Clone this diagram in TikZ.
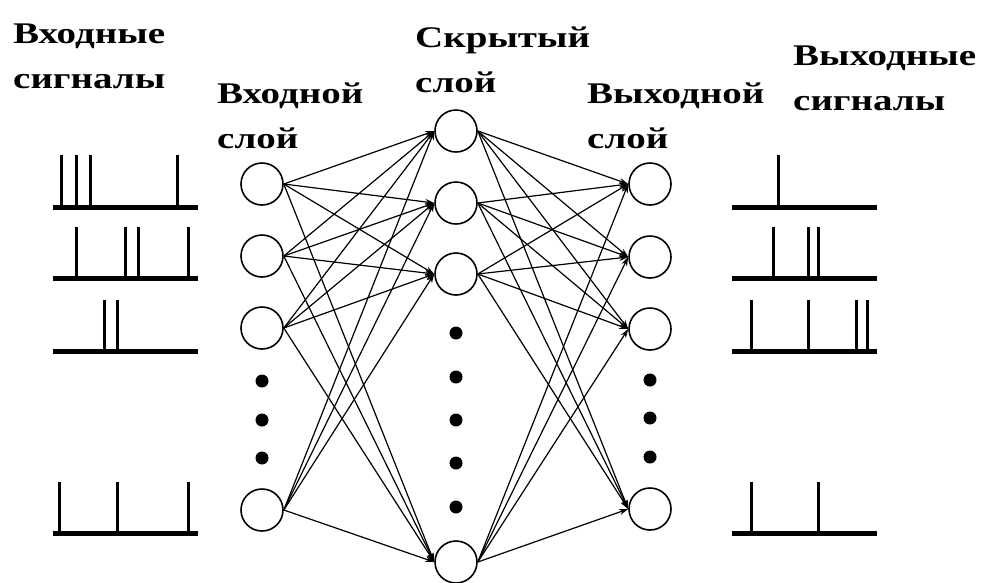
\documentclass[tikz,border=0pt]{standalone}
\usepackage{fontspec}
\setmainfont{Liberation Serif}
\newfontfamily\capfont[FakeStretch=1.3]{Liberation Serif Bold}
\usetikzlibrary{arrows.meta}

\begin{document}
\begin{tikzpicture}[
    x=1pt, y=-1pt,
    neuron/.style={circle, draw, line width=1.6pt, minimum size=42pt, inner sep=0pt},
    dot/.style={circle, fill, inner sep=0pt, minimum size=13pt},
    caption/.style={anchor=base west, align=left, inner sep=0pt, font=\capfont\fontsize{30}{45}\selectfont},
    conn/.style={line width=1.2pt, -{Stealth[length=9pt,width=6pt]}},
    train/.style={line width=5pt},
    spike/.style={line width=3pt}
]
\useasboundingbox (0,0) rectangle (990,582);

% Captions
\node[caption] (insig) at (13,88) {Входные\\сигналы};
\node[caption] (inlab) at (217,148) {Входной\\слой};
\node[caption] (hidlab) at (415,92) {Скрытый\\слой};
\node[caption] (outlab) at (587,148) {Выходной\\слой};
\node[caption] (outsig) at (793,110) {Выходные\\сигналы};

% Neurons
\node[neuron] (in1) at (262,184) {};
\node[neuron] (in2) at (262,256) {};
\node[neuron] (in3) at (262,328) {};
\node[neuron] (in4) at (262,510) {};
\node[neuron] (hid1) at (456,131) {};
\node[neuron] (hid2) at (456,203) {};
\node[neuron] (hid3) at (456,274) {};
\node[neuron] (hid4) at (456,562) {};
\node[neuron] (out1) at (650,184) {};
\node[neuron] (out2) at (650,257) {};
\node[neuron] (out3) at (650,329) {};
\node[neuron] (out4) at (650,509) {};

% Dots
\foreach \y [count=\k] in {381,420,458}
    \node[dot] (indot\k) at (262,\y) {};
\foreach \y [count=\k] in {333,377,420,463,507}
    \node[dot] (hiddot\k) at (456,\y) {};
\foreach \y [count=\k] in {380,418,457}
    \node[dot] (outdot\k) at (650,\y) {};

% Connections
\foreach \i in {1,...,4}
    \foreach \j in {1,...,4} {
        \draw[conn] (in\i.east) -- (hid\j.west);
        \draw[conn] (hid\i.east) -- (out\j.west);
    }

% Input signals
\draw[train] (53,207) -- (198,207);
\foreach \x in {61,76,90,177} \draw[spike] (\x,207) -- (\x,155);
\draw[train] (53,278) -- (198,278);
\foreach \x in {76,125,138,188} \draw[spike] (\x,278) -- (\x,227);
\draw[train] (53,351) -- (198,351);
\foreach \x in {104,117} \draw[spike] (\x,351) -- (\x,300);
\draw[train] (53,533) -- (198,533);
\foreach \x in {59,117,188} \draw[spike] (\x,533) -- (\x,482);

% Output signals
\draw[train] (732,207) -- (877,207);
\foreach \x in {778} \draw[spike] (\x,207) -- (\x,155);
\draw[train] (732,278) -- (877,278);
\foreach \x in {773,808,818} \draw[spike] (\x,278) -- (\x,227);
\draw[train] (732,351) -- (877,351);
\foreach \x in {751,808,856,867} \draw[spike] (\x,351) -- (\x,300);
\draw[train] (732,533) -- (877,533);
\foreach \x in {751,818} \draw[spike] (\x,533) -- (\x,482);

\end{tikzpicture}
\end{document}
